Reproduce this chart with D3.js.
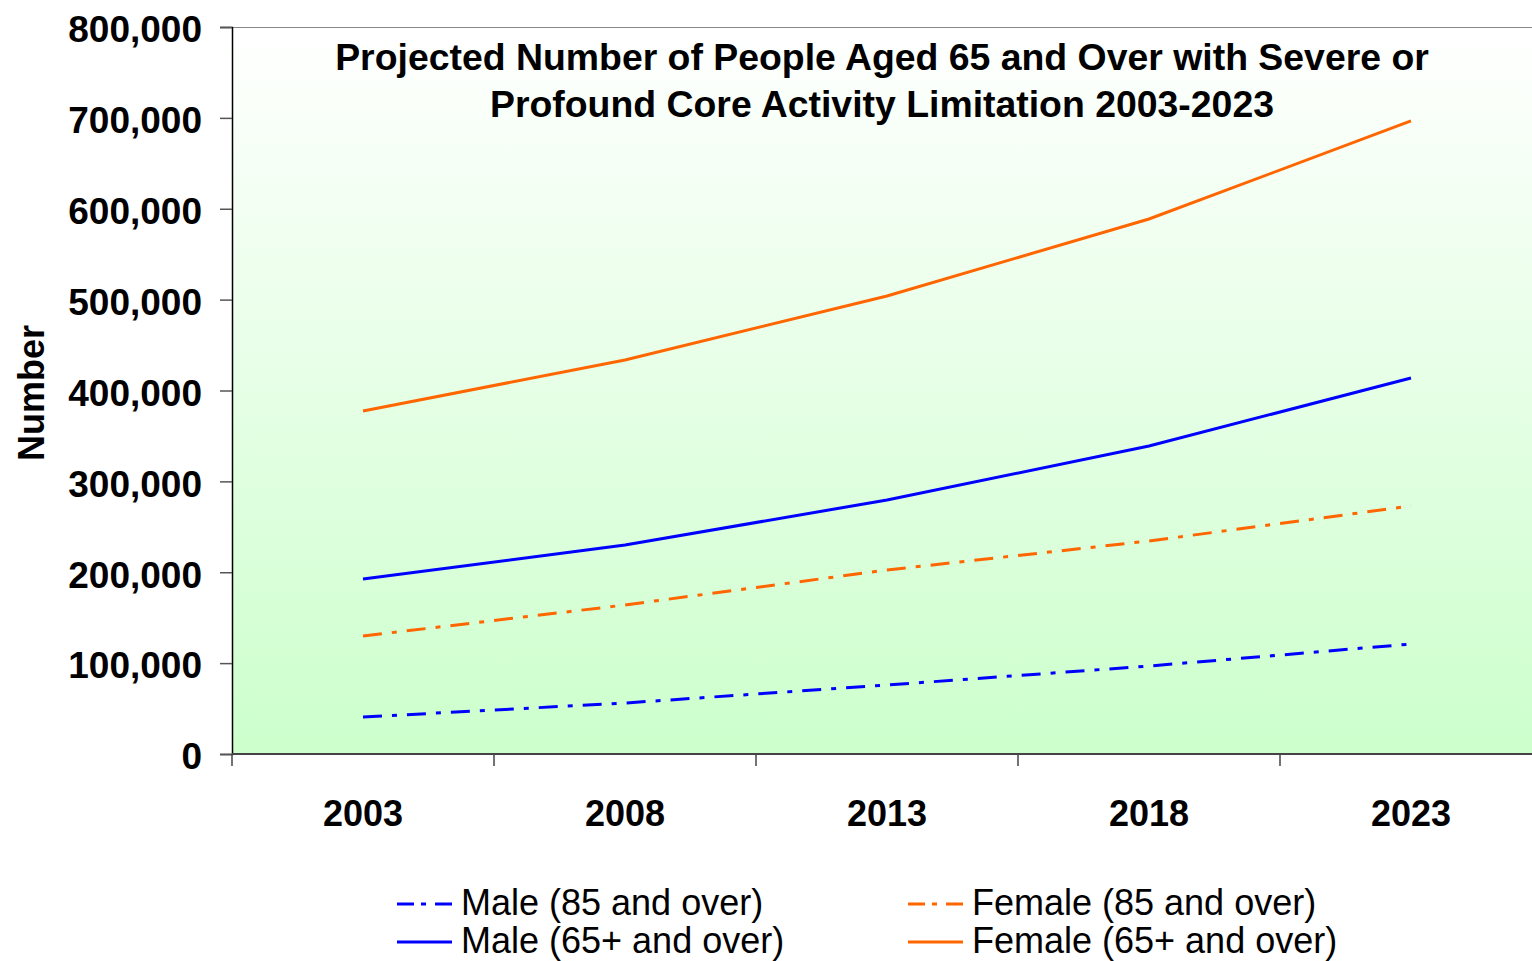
<!DOCTYPE html>
<html><head><meta charset="utf-8">
<script src="https://cdn.jsdelivr.net/npm/d3@7"></script>
<style>body{margin:0;background:#fff}svg{display:block}text{font-family:"Liberation Sans",Arial,sans-serif}</style>
</head><body>
<svg id="c" width="1532" height="961"></svg>
<script>
const years = ["2003","2008","2013","2018","2023"];
const male85 = [40700, 56100, 75900, 96800, 121000];
const female85 = [129800, 164000, 202500, 234400, 272900];
const male65 = [192600, 230000, 279500, 338900, 413800];
const female65 = [377400, 433600, 504000, 588700, 696600];
const yTicks = [0,100000,200000,300000,400000,500000,600000,700000,800000];
const seriesNames = ["Male (85 and over)","Female (85 and over)","Male (65+ and over)","Female (65+ and over)"];
const titleLines = ["Projected Number of People Aged 65 and Over with Severe or","Profound Core Activity Limitation 2003-2023"];

const series = [
  {name: seriesNames[0], values: male85, color: "#0000ff", dash: "19,10,5,10"},
  {name: seriesNames[1], values: female85, color: "#ff6600", dash: "19,10,5,10"},
  {name: seriesNames[2], values: male65, color: "#0000ff", dash: null},
  {name: seriesNames[3], values: female65, color: "#ff6600", dash: null}
];

const svg = d3.select("#c");
const L = 232, T = 27, B = 754, R = 1542;
const x = d3.scaleBand().domain(years).range([L, R]).padding(0);
const y = d3.scaleLinear().domain([0, 800000]).range([B, T]);

const defs = svg.append("defs");
const g = defs.append("linearGradient").attr("id","bg").attr("x1",0).attr("y1",0).attr("x2",0).attr("y2",1);
g.append("stop").attr("offset","0%").attr("stop-color","#ffffff");
g.append("stop").attr("offset","100%").attr("stop-color","#ccffcc");
svg.append("rect").attr("x",L).attr("y",T).attr("width",R-L).attr("height",B-T).attr("fill","url(#bg)");

// top border
svg.append("line").attr("x1",L).attr("x2",1532).attr("y1",T+0.5).attr("y2",T+0.5).attr("stroke","#888").attr("stroke-width",1);

// y axis
const yAxis = d3.axisLeft(y).tickValues(yTicks).tickSize(12).tickPadding(18).tickFormat(d3.format(","));
const ya = svg.append("g").attr("transform",`translate(${L},0)`).call(yAxis);
ya.select(".domain").attr("stroke","#000").attr("stroke-width",1.5);
ya.selectAll(".tick line").attr("stroke","#555").attr("stroke-width",1.5);
ya.selectAll(".tick text").attr("font-size",37).attr("font-weight","bold").attr("fill","#000")
  .attr("font-family","Liberation Sans, Arial, sans-serif").attr("dy","0.40em");

// x axis
const xAxis = d3.axisBottom(x).tickSize(0).tickPadding(46);
const xa = svg.append("g").attr("transform",`translate(0,${B})`).call(xAxis);
xa.select(".domain").remove();
xa.selectAll(".tick text").attr("font-size",36).attr("font-weight","bold").attr("fill","#000").attr("font-family","Liberation Sans, Arial, sans-serif");
svg.append("line").attr("x1",L).attr("x2",1532).attr("y1",B).attr("y2",B).attr("stroke","#444").attr("stroke-width",2);
svg.selectAll(".xt").data(years).enter().append("line")
  .attr("x1",d=>x(d)).attr("x2",d=>x(d)).attr("y1",B).attr("y2",B+12).attr("stroke","#444").attr("stroke-width",1.5);

// y title
svg.append("text").attr("transform","translate(44,393) rotate(-90)").attr("text-anchor","middle")
  .attr("font-size",36).attr("font-weight","bold").text("Number");

// title
svg.append("text").attr("x",882).attr("y",70).attr("text-anchor","middle").attr("font-size",37.4).attr("font-weight","bold")
  .selectAll("tspan").data(titleLines).enter().append("tspan").attr("x",882).attr("dy",(d,i)=>i?47:0).text(d=>d);

// lines
const line = d3.line().x((d,i)=>x(years[i])+x.bandwidth()/2).y(d=>y(d));
svg.selectAll(".s").data(series).enter().append("path")
  .attr("d",d=>line(d.values)).attr("fill","none").attr("stroke",d=>d.color).attr("stroke-width",3)
  .attr("stroke-dasharray",d=>d.dash);

// legend
const leg = [
  {s: series[0], x: 397, y: 902},
  {s: series[2], x: 397, y: 940},
  {s: series[1], x: 908, y: 902},
  {s: series[3], x: 908, y: 940}
];
const lg = svg.selectAll(".lg").data(leg).enter().append("g");
lg.append("line").attr("x1",d=>d.x).attr("x2",d=>d.x+55).attr("y1",d=>d.y+2).attr("y2",d=>d.y+2)
  .attr("stroke",d=>d.s.color).attr("stroke-width",3).attr("stroke-dasharray",d=>d.s.dash ? "17,7,5,9" : null);
lg.append("text").attr("x",d=>d.x+64).attr("y",d=>d.y+13).attr("font-size",36).attr("fill","#000").text(d=>d.s.name);
</script>
</body></html>
